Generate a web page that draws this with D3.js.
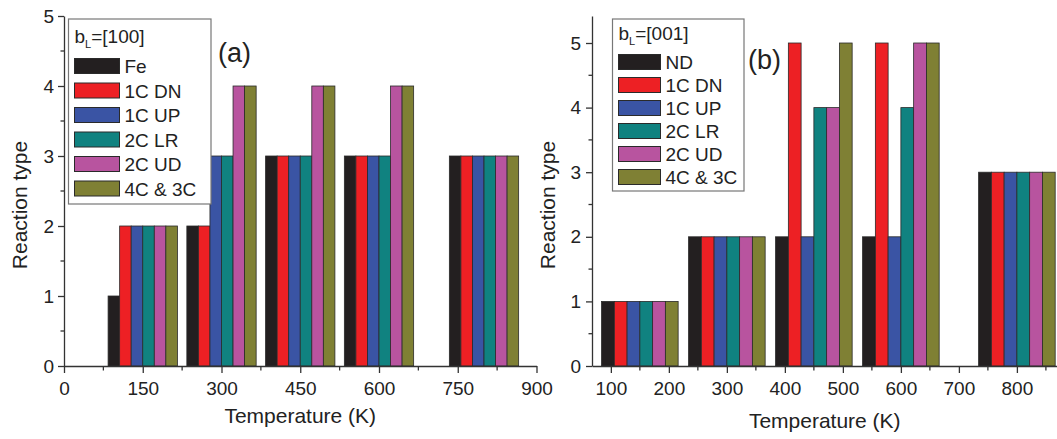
<!DOCTYPE html>
<html>
<head>
<meta charset="utf-8">
<script src="https://cdn.jsdelivr.net/npm/d3@7"></script>
<style>
  body { margin: 0; background: #fff; }
  svg { font-family: "Liberation Sans", Arial, Helvetica, sans-serif; }
</style>
</head>
<body>
<svg id="chart" width="1057" height="439"></svg>
<script>
// data
var seriesA = ["Fe", "1C DN", "1C UP", "2C LR", "2C UD", "4C & 3C"];
var seriesB = ["ND", "1C DN", "1C UP", "2C LR", "2C UD", "4C & 3C"];
var colors = ["#231f20", "#ed2024", "#3a54a4", "#108280", "#b8549f", "#7f8034"];

var tempsA = [150, 300, 450, 600, 800];
var valuesA = [
  [1, 2, 2, 2, 2, 2],
  [2, 2, 3, 3, 4, 4],
  [3, 3, 3, 3, 4, 4],
  [3, 3, 3, 3, 4, 4],
  [3, 3, 3, 3, 3, 3]
];

var tempsB = [150, 300, 450, 600, 800];
var valuesB = [
  [1, 1, 1, 1, 1, 1],
  [2, 2, 2, 2, 2, 2],
  [2, 5, 2, 4, 4, 5],
  [2, 5, 2, 4, 5, 5],
  [3, 3, 3, 3, 3, 3]
];

var xTicksA = [0, 150, 300, 450, 600, 750, 900];
var xTicksB = [100, 200, 300, 400, 500, 600, 700, 800];
var yTicks = [0, 1, 2, 3, 4, 5];

var svg = d3.select("#chart");

function drawPanel(p) {
  var x = d3.scaleLinear().domain(p.xDomain).range(p.xRange);
  var y = d3.scaleLinear().domain(p.yDomain).range([366, 16]);
  // bars sit in a 132 K wide group around each temperature
  var x1 = d3.scaleBand().domain(d3.range(p.series.length)).range([-66, 66]);

  var g = svg.append("g");

  // bars
  var rows = [];
  p.temps.forEach(function(t, i) {
    p.values[i].forEach(function(v, j) { rows.push({t: t, s: j, v: v}); });
  });
  g.selectAll("rect.bar")
    .data(rows)
    .enter().append("rect")
    .attr("class", "bar")
    .attr("x", function(d) { return x(d.t + x1(d.s)); })
    .attr("width", function(d) { return x(d.t + x1(d.s) + x1.bandwidth()) - x(d.t + x1(d.s)); })
    .attr("y", function(d) { return y(d.v); })
    .attr("height", function(d) { return y(0) - y(d.v); })
    .style("fill", function(d) { return colors[d.s]; })
    .style("stroke", "#2a2a2a")
    .style("stroke-width", 0.8);

  // x axis
  var xMinor = d3.range(p.minorStart, p.xDomain[1], p.minorStep);
  var xAxis = g.append("g")
    .attr("transform", "translate(0," + y(0) + ")")
    .call(d3.axisBottom(x).tickValues(p.xTicks).tickSize(7).tickSizeOuter(0).tickPadding(9));
  xAxis.append("g").selectAll("line")
    .data(xMinor).enter().append("line")
    .attr("x1", function(d) { return x(d); }).attr("x2", function(d) { return x(d); })
    .attr("y1", 0).attr("y2", 4.5);

  // y axis
  var yAxis = g.append("g")
    .attr("transform", "translate(" + x(p.xDomain[0]) + ",0)")
    .call(d3.axisLeft(y).tickValues(yTicks).tickFormat(d3.format("d"))
      .tickSize(6).tickSizeOuter(0).tickPadding(p.yPad));
  yAxis.append("g").selectAll("line")
    .data([0.5, 1.5, 2.5, 3.5, 4.5]).enter().append("line")
    .attr("x1", 0).attr("x2", -3.5)
    .attr("y1", function(d) { return y(d); }).attr("y2", function(d) { return y(d); });

  g.selectAll(".domain, line").style("stroke", "#333").style("stroke-width", 1.3);
  g.selectAll(".tick text").style("font-size", "19px").style("fill", "#222");

  // axis titles
  g.append("text")
    .attr("x", (p.xRange[0] + p.xRange[1]) / 2)
    .attr("y", p.titleY)
    .attr("text-anchor", "middle")
    .style("font-size", "21px").style("fill", "#222")
    .text("Temperature (K)");
  g.append("text")
    .attr("transform", "translate(" + p.yTitleX + ",205) rotate(-90)")
    .attr("text-anchor", "middle")
    .style("font-size", "21px").style("fill", "#222")
    .text("Reaction type");

  // panel tag
  g.append("text")
    .attr("x", p.tag[0]).attr("y", p.tag[1])
    .style("font-size", "27px").style("fill", "#222")
    .text(p.tagText);

  // legend
  var L = p.legend;
  var lg = g.append("g");
  lg.append("rect")
    .attr("x", L.x).attr("y", L.y).attr("width", L.w).attr("height", L.h)
    .style("fill", "#fff").style("stroke", "#777").style("stroke-width", 1.2);
  var title = lg.append("text")
    .attr("x", L.x + 6).attr("y", L.titleY)
    .style("font-size", "19px").style("fill", "#222");
  title.append("tspan").text("b");
  title.append("tspan").attr("dy", 5).style("font-size", "11px").text("L");
  title.append("tspan").attr("dy", -5).text(p.bl);

  var item = lg.selectAll("g.item")
    .data(p.series)
    .enter().append("g")
    .attr("class", "item")
    .attr("transform", function(d, i) { return "translate(" + (L.x + 6) + "," + (L.row0 + i * L.step) + ")"; });
  item.append("rect")
    .attr("width", L.sw).attr("height", 15)
    .style("fill", function(d, i) { return colors[i]; })
    .style("stroke", "#2a2a2a").style("stroke-width", 1);
  item.append("text")
    .attr("x", L.sw + 5).attr("y", 14.5)
    .style("font-size", "19px").style("fill", "#222")
    .text(function(d) { return d; });
}

drawPanel({
  series: seriesA, temps: tempsA, values: valuesA,
  xDomain: [0, 900], xRange: [64, 536.5], xTicks: xTicksA,
  minorStart: 75, minorStep: 150,
  yDomain: [0, 5], yPad: 4, yTitleX: 27, titleY: 423,
  tag: [218, 62], tagText: "(a)", bl: "=[100]",
  legend: {x: 68.5, y: 19, w: 142.5, h: 185, titleY: 43, row0: 58.5, step: 24.5, sw: 45}
});

drawPanel({
  series: seriesB, temps: tempsB, values: valuesB,
  xDomain: [67.5, 870], xRange: [592, 1057.5], xTicks: xTicksB,
  minorStart: 150, minorStep: 100,
  yDomain: [0, 5.418], yPad: 5, yTitleX: 555, titleY: 428,
  tag: [748, 69], tagText: "(b)", bl: "=[001]",
  legend: {x: 612.5, y: 19, w: 131.5, h: 172, titleY: 40, row0: 54.5, step: 23, sw: 42}
});
</script>
</body>
</html>
